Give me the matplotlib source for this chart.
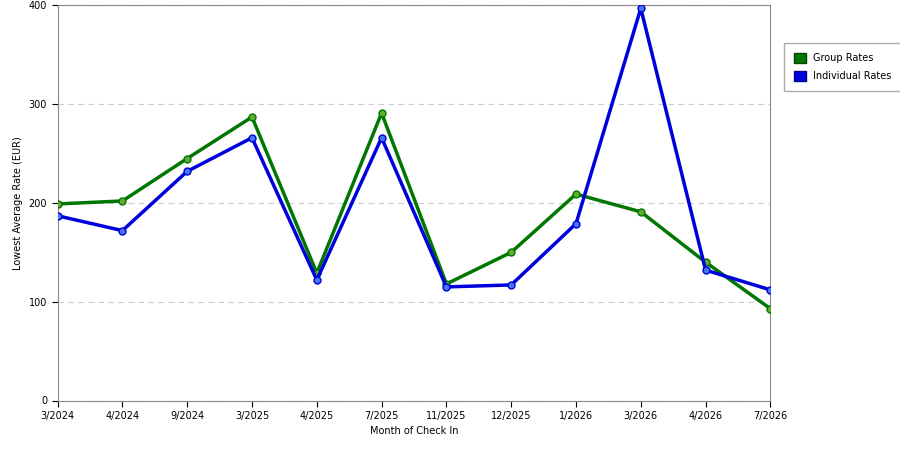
import matplotlib
matplotlib.use("Agg")
import matplotlib.pyplot as plt
from matplotlib.patches import Patch

months = ["3/2024","4/2024","9/2024","3/2025","4/2025","7/2025","11/2025","12/2025","1/2026","3/2026","4/2026","7/2026"]
group_rates = [199, 202, 245, 287, 129, 291, 118, 150, 209, 191, 140, 93]
individual_rates = [187, 172, 232, 266, 122, 266, 115, 117, 179, 397, 132, 112]

fig = plt.figure(figsize=(9, 4.5), dpi=100)
ax = fig.add_axes([0.064, 0.11, 0.792, 0.878])
x = list(range(len(months)))
ax.plot(x, group_rates, color="#007700", lw=2.5, marker="o", ms=5, mfc="#66aa33", mec="#007700", zorder=3)
ax.plot(x, individual_rates, color="#0000dd", lw=2.5, marker="o", ms=5, mfc="#4477ee", mec="#0000dd", zorder=3)
ax.set_xlim(0, len(months)-1)
ax.set_ylim(0, 400)
ax.set_yticks([0,100,200,300,400])
ax.set_xticks(x)
ax.set_xticklabels(months)
ax.tick_params(labelsize=7, length=4)
ax.grid(axis="y", color="#cccccc", ls=(0,(5,4)), lw=0.8)
ax.set_xlabel("Month of Check In", fontsize=7)
ax.set_ylabel("Lowest Average Rate (EUR)", fontsize=7)
for s in ax.spines.values():
    s.set_color("#888888")
handles = [Patch(facecolor="#007700", edgecolor="#004400", label="Group Rates"),
           Patch(facecolor="#0000dd", edgecolor="#000088", label="Individual Rates")]
fig.legend(handles=handles, loc="upper left", bbox_to_anchor=(0.866, 0.915), fontsize=7,
           frameon=True, fancybox=False, edgecolor="#999999", handlelength=1.2, handleheight=1.2,
           borderpad=1.0, labelspacing=0.8)
fig.savefig("out.png")
